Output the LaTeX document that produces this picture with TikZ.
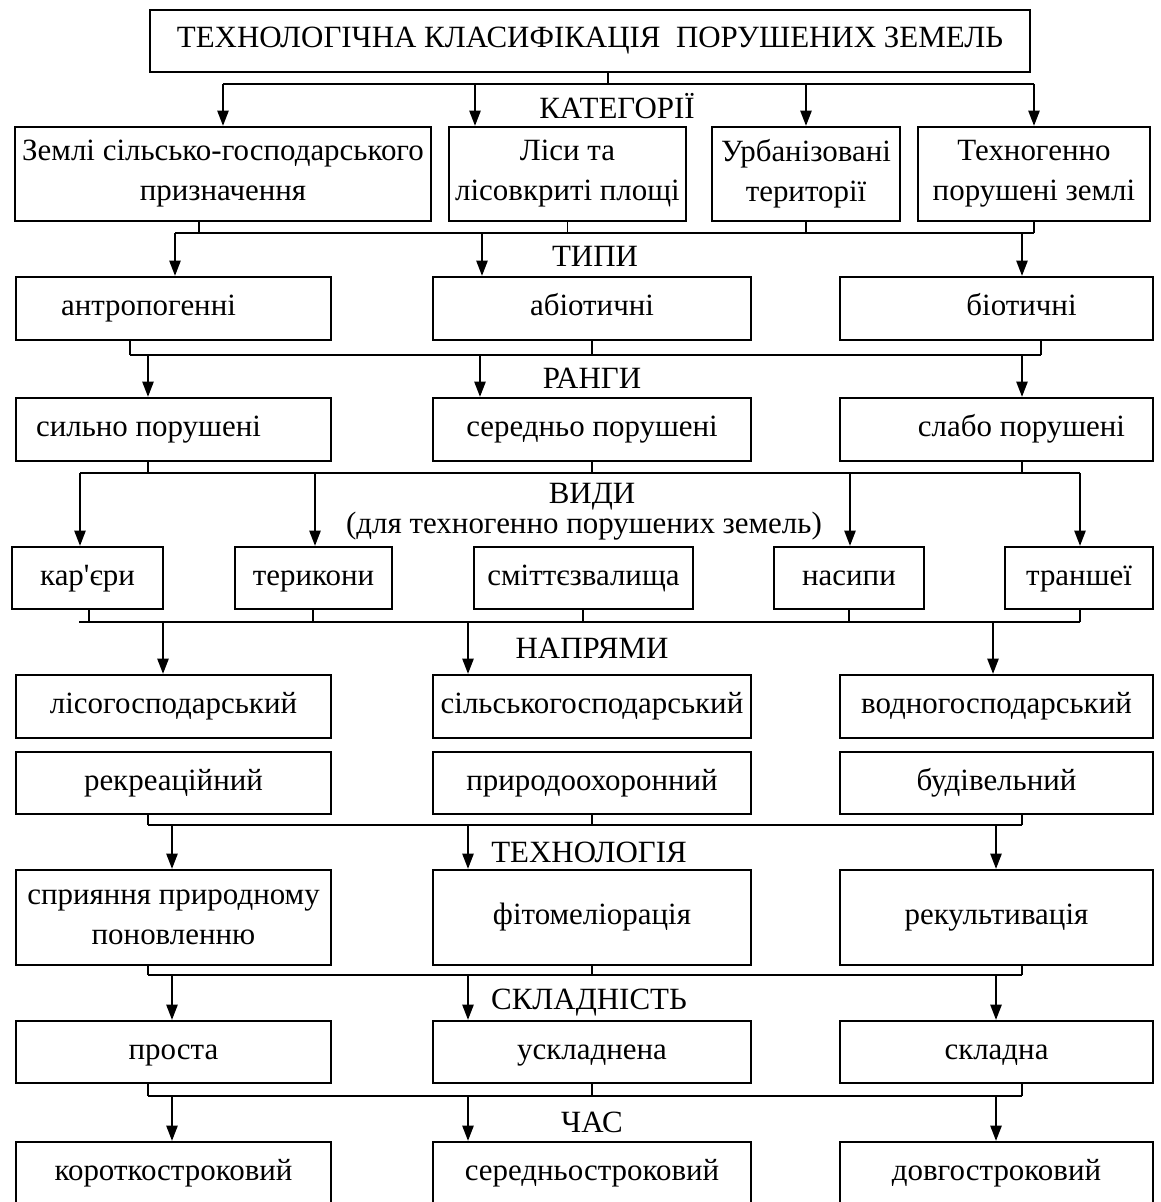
\documentclass[tikz,border=0pt]{standalone}
\usepackage{fontspec}
\setmainfont{Liberation Serif}
\usetikzlibrary{arrows.meta}

\begin{document}
\begin{tikzpicture}[x=0.025cm,y=-0.025cm,
  font=\fontsize{22}{28.5}\selectfont,
  box/.style={draw,line width=1.6pt,inner sep=0pt,align=center},
  one/.style={text height=15pt,text depth=5pt},
  lbox/.style={box,one,minimum width=7.875cm},
  mbox/.style={box,one,minimum width=7.95cm},
  rbox/.style={box,one,minimum width=7.825cm},
  line/.style={line width=1.3pt},
  arr/.style={line width=1.3pt,-{Triangle[length=3.8mm,width=2.8mm]}}]
\path[use as bounding box,fill=white] (0,0) rectangle (1160,1202);

\node[box,minimum width=22cm,minimum height=1.55cm] (title) at (590,41) {ТЕХНОЛОГІЧНА КЛАСИФІКАЦІЯ\ \ ПОРУШЕНИХ ЗЕМЕЛЬ};

\node (lcat) at (617,106) {КАТЕГОРІЇ};
\node (ltyp) at (595,256) {ТИПИ};
\node (lrnk) at (592,378) {РАНГИ};
\node (lknd) at (592,497) {ВИДИ};
\node (lknd2) at (584,526) {(для техногенно порушених земель)};
\node (ldir) at (592,648) {НАПРЯМИ};
\node (ltec) at (589,852) {ТЕХНОЛОГІЯ};
\node (lcmp) at (589,1003) {СКЛАДНІСТЬ};
\node (ltim) at (592,1122) {ЧАС};

\node[box,minimum width=10.4cm,minimum height=2.35cm] (cat1) at (223,174) {Землі сільсько-господарського\\призначення};
\node[box,minimum width=5.925cm,minimum height=2.35cm] (cat2) at (567.5,174) {Ліси та\\лісовкриті площі};
\node[box,minimum width=4.7cm,minimum height=2.35cm] (cat3) at (806,174) {Урбанізовані\\території};
\node[box,minimum width=5.8cm,minimum height=2.35cm] (cat4) at (1034,174) {Техногенно\\порушені землі};

\node[lbox,minimum height=1.575cm] (typ1) at (173.5,308.5) {антропогенні\hspace*{1.25cm}};
\node[mbox,minimum height=1.575cm] (typ2) at (592,308.5) {абіотичні};
\node[rbox,minimum height=1.575cm] (typ3) at (996.5,308.5) {\hspace*{1.25cm}біотичні};

\node[lbox,minimum height=1.575cm] (rnk1) at (173.5,429.5) {сильно порушені\hspace*{1.25cm}};
\node[mbox,minimum height=1.575cm] (rnk2) at (592,429.5) {середньо порушені};
\node[rbox,minimum height=1.575cm] (rnk3) at (996.5,429.5) {\hspace*{1.25cm}слабо порушені};

\node[box,one,minimum width=3.775cm,minimum height=1.55cm] (knd1) at (87.5,578) {кар\textquotesingle єри};
\node[box,one,minimum width=3.925cm,minimum height=1.55cm] (knd2) at (313.5,578) {терикони};
\node[box,one,minimum width=5.475cm,minimum height=1.55cm] (knd3) at (583.5,578) {сміттєзвалища};
\node[box,one,minimum width=3.75cm,minimum height=1.55cm] (knd4) at (849,578) {насипи};
\node[box,one,minimum width=3.7cm,minimum height=1.55cm] (knd5) at (1079,578) {траншеї};

\node[lbox,minimum height=1.575cm] (dir1) at (173.5,706.5) {лісогосподарський};
\node[mbox,minimum height=1.575cm] (dir2) at (592,706.5) {сільськогосподарський};
\node[rbox,minimum height=1.575cm] (dir3) at (996.5,706.5) {водногосподарський};
\node[lbox,minimum height=1.55cm] (dir4) at (173.5,783) {рекреаційний};
\node[mbox,minimum height=1.55cm] (dir5) at (592,783) {природоохоронний};
\node[rbox,minimum height=1.55cm] (dir6) at (996.5,783) {будівельний};

\node[box,minimum width=7.875cm,minimum height=2.375cm] (tec1) at (173.5,917.5) {сприяння природному\\поновленню};
\node[mbox,minimum height=2.375cm] (tec2) at (592,917.5) {фітомеліорація};
\node[rbox,minimum height=2.375cm] (tec3) at (996.5,917.5) {рекультивація};

\node[lbox,minimum height=1.55cm] (cmp1) at (173.5,1052) {проста};
\node[mbox,minimum height=1.55cm] (cmp2) at (592,1052) {ускладнена};
\node[rbox,minimum height=1.55cm] (cmp3) at (996.5,1052) {складна};

\node[lbox,minimum height=1.55cm] (tim1) at (173.5,1173) {короткостроковий};
\node[mbox,minimum height=1.55cm] (tim2) at (592,1173) {середньостроковий};
\node[rbox,minimum height=1.55cm] (tim3) at (996.5,1173) {довгостроковий};

\draw[line] (608,84 |- title.south) -- (608,84);
\draw[line] (223,84) -- (1034,84);
\foreach \x/\n in {223/cat1,475/cat2,806/cat3,1034/cat4}
  \draw[arr] (\x,84) -- (\x,84 |- \n.north);

\foreach \x/\n in {199/cat1,567.5/cat2,806/cat3,1034/cat4}
  \draw[line] (\x,233 |- \n.south) -- (\x,233);
\draw[line] (175,233) -- (1034,233);
\foreach \x/\n in {175/typ1,482/typ2,1022/typ3}
  \draw[arr] (\x,233) -- (\x,233 |- \n.north);

\foreach \x/\n in {130/typ1,592/typ2,1041/typ3}
  \draw[line] (\x,355 |- \n.south) -- (\x,355);
\draw[line] (130,355) -- (1041,355);
\foreach \x/\n in {148/rnk1,480/rnk2,1022/rnk3}
  \draw[arr] (\x,355) -- (\x,355 |- \n.north);

\foreach \x/\n in {148/rnk1,592/rnk2,1022/rnk3}
  \draw[line] (\x,473 |- \n.south) -- (\x,473);
\draw[line] (80,473) -- (1080,473);
\foreach \x/\n in {80/knd1,315/knd2,850/knd4,1080/knd5}
  \draw[arr] (\x,473) -- (\x,473 |- \n.north);

\foreach \x/\n in {89/knd1,313/knd2,583/knd3,849/knd4,1080/knd5}
  \draw[line] (\x,622 |- \n.south) -- (\x,622);
\draw[line] (79,622) -- (1080,622);
\foreach \x/\n in {163/dir1,468/dir2,993/dir3}
  \draw[arr] (\x,622) -- (\x,622 |- \n.north);

\foreach \x/\n in {148/dir4,592/dir5,1022/dir6}
  \draw[line] (\x,825 |- \n.south) -- (\x,825);
\draw[line] (148,825) -- (1022,825);
\foreach \x/\n in {172/tec1,468/tec2,996/tec3}
  \draw[arr] (\x,825) -- (\x,825 |- \n.north);

\foreach \x/\n in {148/tec1,592/tec2,1022/tec3}
  \draw[line] (\x,975 |- \n.south) -- (\x,975);
\draw[line] (148,975) -- (1022,975);
\foreach \x/\n in {172/cmp1,468/cmp2,996/cmp3}
  \draw[arr] (\x,975) -- (\x,975 |- \n.north);

\foreach \x/\n in {148/cmp1,592/cmp2,1022/cmp3}
  \draw[line] (\x,1096 |- \n.south) -- (\x,1096);
\draw[line] (148,1096) -- (1022,1096);
\foreach \x/\n in {172/tim1,468/tim2,996/tim3}
  \draw[arr] (\x,1096) -- (\x,1096 |- \n.north);
\end{tikzpicture}
\end{document}
